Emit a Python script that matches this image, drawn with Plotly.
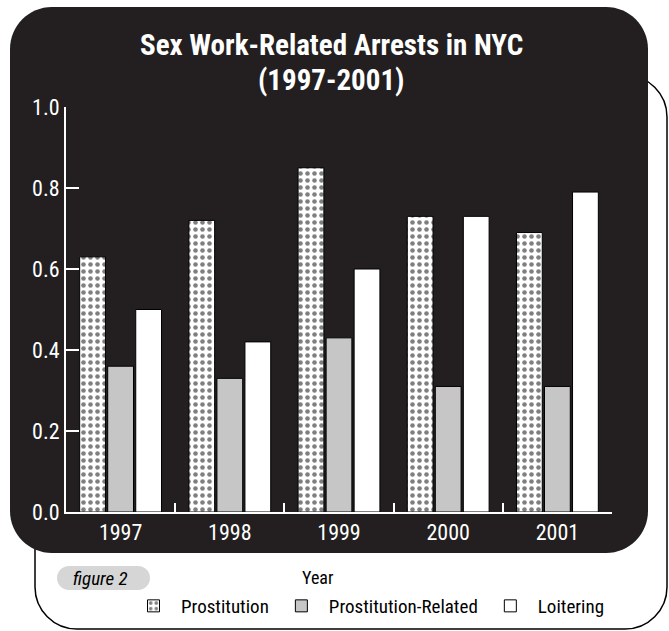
import plotly.graph_objects as go

years = ["1997", "1998", "1999", "2000", "2001"]
prostitution = [0.63, 0.72, 0.85, 0.73, 0.69]
prostitution_related = [0.36, 0.33, 0.43, 0.31, 0.31]
loitering = [0.50, 0.42, 0.60, 0.73, 0.79]
y_ticks = [0.0, 0.2, 0.4, 0.6, 0.8, 1.0]

W, H = 669, 631
L, R, T, B = 66, 612, 107, 512  # plot area in pixels
FONT = "Liberation Sans Narrow, Roboto Condensed, DejaVu Sans Condensed, Arial Narrow, sans-serif"
DARK = "#231f20"


def px(x):
    return (x - L) / (R - L)


def py(y):
    return (B - y) / (B - T)


def rounded_rect(x0, y0, x1, y1, r):
    k = 0.5523 * r
    pts = [
        f"M{px(x0 + r)},{py(y0)}",
        f"L{px(x1 - r)},{py(y0)}",
        f"C{px(x1 - r + k)},{py(y0)} {px(x1)},{py(y0 + r - k)} {px(x1)},{py(y0 + r)}",
        f"L{px(x1)},{py(y1 - r)}",
        f"C{px(x1)},{py(y1 - r + k)} {px(x1 - r + k)},{py(y1)} {px(x1 - r)},{py(y1)}",
        f"L{px(x0 + r)},{py(y1)}",
        f"C{px(x0 + r - k)},{py(y1)} {px(x0)},{py(y1 - r + k)} {px(x0)},{py(y1 - r)}",
        f"L{px(x0)},{py(y0 + r)}",
        f"C{px(x0)},{py(y0 + r - k)} {px(x0 + r - k)},{py(y0)} {px(x0 + r)},{py(y0)}",
        "Z",
    ]
    return " ".join(pts)


fig = go.Figure()
fig.add_trace(go.Bar(
    name="Prostitution", x=years, y=prostitution,
    marker=dict(color="white", line=dict(color="black", width=1),
                pattern=dict(shape=".", fgcolor="black", bgcolor="white", size=7, solidity=0.34)),
))
fig.add_trace(go.Bar(
    name="Prostitution-Related", x=years, y=prostitution_related,
    marker=dict(color="#c6c6c6", line=dict(color="black", width=1)),
))
fig.add_trace(go.Bar(
    name="Loitering", x=years, y=loitering,
    marker=dict(color="white", line=dict(color="black", width=1)),
))

shapes = [
    dict(type="path", xref="paper", yref="paper", layer="below",
         path=rounded_rect(35, 75, 667, 629, 42),
         line=dict(color="black", width=1.5), fillcolor="white"),
    dict(type="path", xref="paper", yref="paper", layer="below",
         path=rounded_rect(10, 7, 648, 553, 42),
         line=dict(width=0), fillcolor=DARK),
    dict(type="path", xref="paper", yref="paper", layer="below",
         path=rounded_rect(57, 566, 150, 590, 12),
         line=dict(width=0), fillcolor="#d6d6d6"),
]

annotations = [
    dict(text="<b>Sex Work-Related Arrests in NYC</b>", xref="paper", yref="paper",
         x=px(331), y=py(45), xanchor="center", yanchor="middle", showarrow=False,
         font=dict(family=FONT, size=29, color="white")),
    dict(text="<b>(1997-2001)</b>", xref="paper", yref="paper",
         x=px(331), y=py(80), xanchor="center", yanchor="middle", showarrow=False,
         font=dict(family=FONT, size=29, color="white")),
    dict(text="<i>figure 2</i>", xref="paper", yref="paper",
         x=px(100), y=py(578), xanchor="center", yanchor="middle", showarrow=False,
         font=dict(family=FONT, size=19, color="black")),
    dict(text="Year", xref="paper", yref="paper",
         x=px(318), y=py(577), xanchor="center", yanchor="middle", showarrow=False,
         font=dict(family=FONT, size=18, color="black")),
]

fig.update_layout(
    width=W, height=H,
    margin=dict(l=L, r=W - R, t=T, b=H - B, pad=0, autoexpand=False),
    paper_bgcolor="white", plot_bgcolor="rgba(0,0,0,0)",
    barmode="group", bargap=0.23, bargroupgap=0.08,
    font=dict(family=FONT, color="white"),
    shapes=shapes, annotations=annotations,
    showlegend=True,
    legend=dict(orientation="h", x=px(126), y=py(587), xanchor="left", yanchor="top",
                font=dict(family=FONT, size=19, color="black"),
                bgcolor="rgba(0,0,0,0)", itemwidth=45, traceorder="normal"),
    xaxis=dict(type="category", showline=True, linecolor="white", linewidth=2,
               ticks="inside", tickson="boundaries", ticklen=9, tickwidth=2, tickcolor="white",
               showgrid=False, zeroline=False, tickfont=dict(family=FONT, size=22, color="white"),
               fixedrange=True),
    yaxis=dict(range=[0, 1.0], tickvals=y_ticks, tickformat=".1f", ticksuffix="\u00a0\u00a0",
               showline=True, linecolor="white", linewidth=2, ticks="inside", ticklen=13,
               tickwidth=2, tickcolor="white", showgrid=False, zeroline=False,
               tickfont=dict(family=FONT, size=22, color="white"),
               fixedrange=True),
)

fig.write_html("out.html", config={"displayModeBar": False},
               post_script="document.body.style.margin='0';")
